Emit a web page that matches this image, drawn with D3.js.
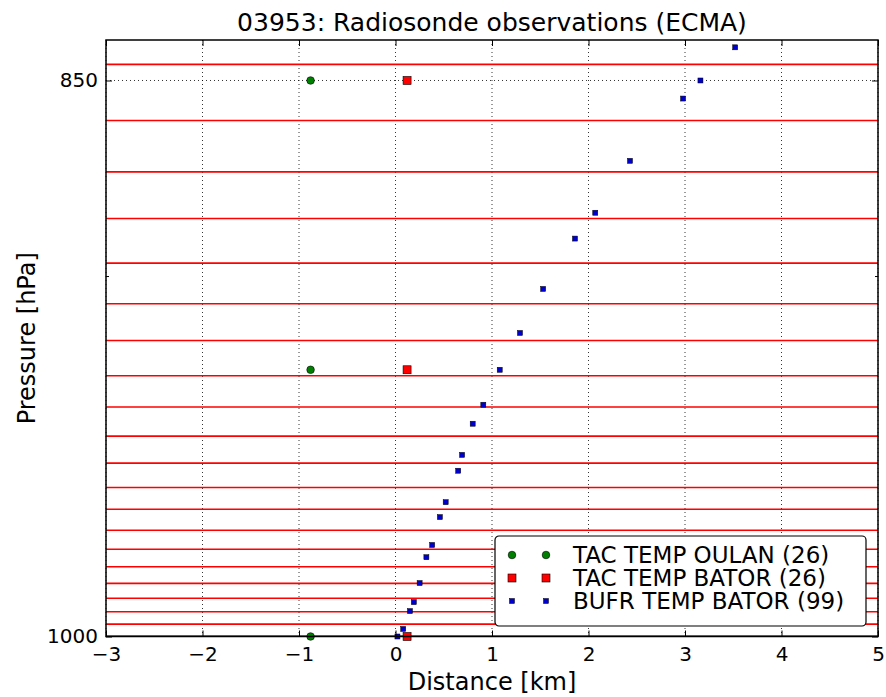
<!DOCTYPE html>
<html>
<head>
<meta charset="utf-8">
<script src="https://cdn.jsdelivr.net/npm/d3@7"></script>
<style>
  body { margin: 0; background: #fff; }
  text { font-family: "DejaVu Sans", sans-serif; fill: #000; }
</style>
</head>
<body>
<div id="chart"></div>
<script>
// data
var levelLines = [846, 860, 873, 885, 896.6, 907.3, 917.1, 926.6, 935.1, 943.1, 950.6,
    957.4, 963.5, 969.4, 974.8, 979.8, 984.6, 988.9, 992.8, 996.4, 999.9];

var oulanP = [850, 925, 1000];
var oulanX = [-0.88, -0.88, -0.88];

var batorP = [850, 925, 1000];
var batorX = [0.12, 0.12, 0.12];

var bufrP = [841.8, 850, 854.5, 870.2, 883.5, 890.2, 903.4, 915.1, 925, 934.5, 939.7,
    948.3, 952.7, 961.5, 965.7, 973.6, 977.1, 984.5, 990, 992.6, 997.8, 1000];
var bufrX = [3.52, 3.16, 2.98, 2.43, 2.07, 1.86, 1.53, 1.29, 1.08, 0.91, 0.80,
    0.69, 0.65, 0.52, 0.46, 0.38, 0.32, 0.25, 0.19, 0.15, 0.08, 0.02];

var xTicks = [-3, -2, -1, 0, 1, 2, 3, 4, 5];
var yTicks = [850, 1000];
var yMinor = [900];
var legendLabels = ["TAC TEMP OULAN (26)", "TAC TEMP BATOR (26)", "BUFR TEMP BATOR (99)"];

// set the dimensions and margins of the graph
var margin = { top: 40, right: 8, bottom: 60.5, left: 106 },
    width = 886 - margin.left - margin.right,
    height = 697 - margin.top - margin.bottom;

var x = d3.scaleLinear().domain([-3, 5]).range([0, width]);
var y = d3.scaleLog().domain([840, 1000]).range([0, height]);

var svg = d3.select("#chart").append("svg")
    .attr("width", 886)
    .attr("height", 697);

var g = svg.append("g")
    .attr("transform", "translate(" + margin.left + "," + margin.top + ")");

// title and labels
svg.append("text")
    .attr("x", margin.left + width / 2).attr("y", 31)
    .attr("text-anchor", "middle").style("font-size", "25px")
    .text("03953: Radiosonde observations (ECMA)");
svg.append("text")
    .attr("x", margin.left + width / 2).attr("y", 690)
    .attr("text-anchor", "middle").style("font-size", "24px")
    .text("Distance [km]");
svg.append("text")
    .attr("transform", "translate(35," + (margin.top + height / 2) + ") rotate(-90)")
    .attr("text-anchor", "middle").style("font-size", "24px")
    .text("Pressure [hPa]");

// grid
g.selectAll(".xgrid").data(xTicks).enter().append("line")
    .attr("x1", function (d) { return x(d); }).attr("x2", function (d) { return x(d); })
    .attr("y1", 0).attr("y2", height)
    .attr("stroke", "#000").attr("stroke-width", 0.8).attr("stroke-dasharray", "1,3");
g.selectAll(".ygrid").data(yTicks).enter().append("line")
    .attr("x1", 0).attr("x2", width)
    .attr("y1", function (d) { return y(d); }).attr("y2", function (d) { return y(d); })
    .attr("stroke", "#000").attr("stroke-width", 0.8).attr("stroke-dasharray", "1,3");

// level lines
g.selectAll(".lev").data(levelLines).enter().append("line")
    .attr("x1", 0).attr("x2", width)
    .attr("y1", function (d) { return y(d); }).attr("y2", function (d) { return y(d); })
    .attr("stroke", "#ff0000").attr("stroke-width", 1.6);

// points
g.selectAll(".oulan").data(oulanP).enter().append("circle")
    .attr("cx", function (d, i) { return x(oulanX[i]); })
    .attr("cy", function (d) { return y(d); })
    .attr("r", 3.8).attr("fill", "#008000").attr("stroke", "#000").attr("stroke-width", 0.6);

g.selectAll(".bator").data(batorP).enter().append("rect")
    .attr("x", function (d, i) { return x(batorX[i]) - 4; })
    .attr("y", function (d) { return y(d) - 4; })
    .attr("width", 8).attr("height", 8)
    .attr("fill", "#ff0000").attr("stroke", "#000").attr("stroke-width", 0.6);

g.selectAll(".bufr").data(bufrP).enter().append("rect")
    .attr("x", function (d, i) { return x(bufrX[i]) - 2.5; })
    .attr("y", function (d) { return y(d) - 2.5; })
    .attr("width", 5).attr("height", 5)
    .attr("fill", "#0000cc").attr("stroke", "#000").attr("stroke-width", 0.5);

// axes, ticks inward on all sides
g.append("rect").attr("width", width).attr("height", height)
    .attr("fill", "none").attr("stroke", "#000").attr("stroke-width", 1.5);

var xb = g.append("g").attr("transform", "translate(0," + height + ")")
    .call(d3.axisBottom(x).tickValues(xTicks).tickSizeInner(-6).tickSizeOuter(0).tickPadding(10)
        .tickFormat(function (d) { return d < 0 ? "\u2212" + Math.abs(d) : d; }));
var xt = g.append("g")
    .call(d3.axisTop(x).tickValues(xTicks).tickSizeInner(-6).tickSizeOuter(0).tickFormat(""));
var yl = g.append("g")
    .call(d3.axisLeft(y).tickValues(yTicks).tickSizeInner(-6).tickSizeOuter(0).tickPadding(8)
        .tickFormat(d3.format("d")));
var yr = g.append("g").attr("transform", "translate(" + width + ",0)")
    .call(d3.axisRight(y).tickValues(yTicks).tickSizeInner(-6).tickSizeOuter(0).tickFormat(""));
var ylm = g.append("g")
    .call(d3.axisLeft(y).tickValues(yMinor).tickSizeInner(-3).tickSizeOuter(0).tickFormat(""));
var yrm = g.append("g").attr("transform", "translate(" + width + ",0)")
    .call(d3.axisRight(y).tickValues(yMinor).tickSizeInner(-3).tickSizeOuter(0).tickFormat(""));

[xb, xt, yl, yr, ylm, yrm].forEach(function (a) {
    a.select(".domain").remove();
    a.selectAll("line").attr("stroke", "#000");
    a.selectAll("text").style("font-size", "20px").attr("font-family", null);
});

// legend
var leg = g.append("g").attr("transform", "translate(" + (495 - margin.left) + "," + (536 - margin.top) + ")");
leg.append("rect").attr("width", 371).attr("height", 90).attr("rx", 4)
    .attr("fill", "#fff").attr("stroke", "#000").attr("stroke-width", 1.2);
legendLabels.forEach(function (lab, i) {
    var yy = 19 + i * 23;
    [17, 51].forEach(function (mx) {
        if (i === 0) {
            leg.append("circle").attr("cx", mx).attr("cy", yy).attr("r", 3.8)
                .attr("fill", "#008000").attr("stroke", "#000").attr("stroke-width", 0.6);
        } else if (i === 1) {
            leg.append("rect").attr("x", mx - 4).attr("y", yy - 4).attr("width", 8).attr("height", 8)
                .attr("fill", "#ff0000").attr("stroke", "#000").attr("stroke-width", 0.6);
        } else {
            leg.append("rect").attr("x", mx - 2.5).attr("y", yy - 2.5).attr("width", 5).attr("height", 5)
                .attr("fill", "#0000cc").attr("stroke", "#000").attr("stroke-width", 0.5);
        }
    });
    leg.append("text").attr("x", 78).attr("y", yy + 8).style("font-size", "23px").text(lab);
});
</script>
</body>
</html>
